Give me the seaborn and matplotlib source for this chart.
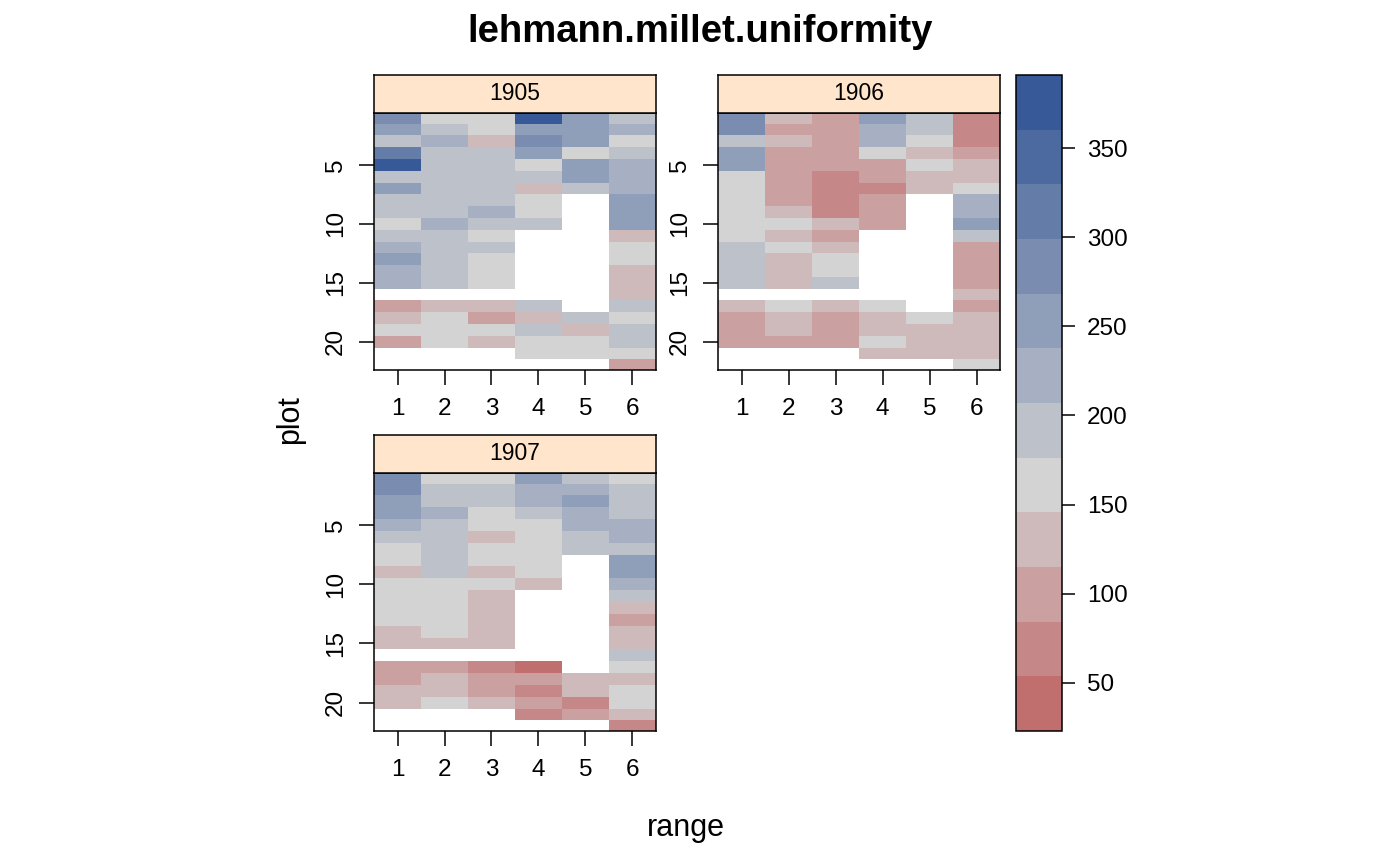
import numpy as np
import pandas as pd
import matplotlib
matplotlib.use("Agg")
import matplotlib.pyplot as plt
from matplotlib.colors import ListedColormap, BoundaryNorm
import seaborn as sns

# -------------------------
# Data (yield per plot; nan = missing plot)
# -------------------------
N = np.nan
years = ["1905", "1906", "1907"]
ranges = [1, 2, 3, 4, 5, 6]
plots = list(range(1, 23))

yield_1905 = [
    [284, 161, 161, 391, 253, 192],
    [253, 192, 161, 253, 253, 222],
    [192, 222, 130, 284, 253, 161],
    [314, 192, 192, 253, 161, 192],
    [376, 192, 192, 161, 253, 222],
    [192, 192, 192, 192, 253, 222],
    [253, 192, 192, 130, 192, 222],
    [192, 192, 192, 161, N, 253],
    [192, 192, 222, 161, N, 253],
    [161, 222, 192, 192, N, 253],
    [192, 192, 161, N, N, 130],
    [222, 192, 192, N, N, 161],
    [253, 192, 161, N, N, 161],
    [222, 192, 161, N, N, 130],
    [222, 192, 161, N, N, 130],
    [N, N, N, N, N, 130],
    [100, 130, 130, 192, N, 192],
    [130, 161, 100, 130, 192, 161],
    [161, 161, 161, 192, 130, 192],
    [100, 161, 130, 161, 161, 192],
    [N, N, N, 161, 161, 161],
    [N, N, N, N, N, 100],
]

yield_1906 = [
    [284, 130, 100, 253, 192, 69],
    [284, 100, 100, 222, 192, 69],
    [192, 130, 100, 222, 161, 69],
    [253, 100, 100, 161, 130, 100],
    [253, 100, 100, 100, 161, 130],
    [161, 100, 69, 100, 130, 130],
    [161, 100, 69, 69, 130, 161],
    [161, 100, 69, 100, N, 222],
    [161, 130, 69, 100, N, 222],
    [161, 161, 130, 100, N, 253],
    [161, 130, 100, N, N, 192],
    [192, 161, 130, N, N, 100],
    [192, 130, 161, N, N, 100],
    [192, 130, 161, N, N, 100],
    [192, 130, 192, N, N, 100],
    [N, N, N, N, N, 130],
    [130, 161, 130, 161, N, 100],
    [100, 130, 100, 130, 161, 130],
    [100, 130, 100, 130, 130, 130],
    [100, 100, 100, 161, 130, 130],
    [N, N, N, 130, 130, 130],
    [N, N, N, N, N, 161],
]

yield_1907 = [
    [284, 161, 161, 253, 192, 161],
    [284, 192, 192, 222, 222, 192],
    [253, 192, 192, 222, 253, 192],
    [253, 222, 161, 192, 222, 192],
    [222, 192, 161, 161, 222, 222],
    [192, 192, 130, 161, 192, 222],
    [161, 192, 161, 161, 192, 192],
    [161, 192, 161, 161, N, 253],
    [130, 192, 130, 161, N, 253],
    [161, 161, 161, 130, N, 222],
    [161, 161, 130, N, N, 192],
    [161, 161, 130, N, N, 130],
    [161, 161, 130, N, N, 100],
    [130, 161, 130, N, N, 130],
    [130, 130, 130, N, N, 130],
    [N, N, N, N, N, 192],
    [100, 100, 69, 23, N, 161],
    [100, 130, 100, 100, 130, 130],
    [130, 130, 100, 69, 130, 161],
    [130, 161, 130, 100, 69, 161],
    [N, N, N, 69, 100, 130],
    [N, N, N, N, N, 69],
]

key_ticks = [50, 100, 150, 200, 250, 300, 350]

# firebrick -> lightgray -> blue, 12 levels
level_colors = ["#C06E6E", "#C58787", "#CAA0A0", "#CEBABA", "#D3D3D3", "#BDC2CA",
                "#A6B0C2", "#909FB9", "#7A8DB1", "#647CA8", "#4D6AA0", "#375997"]

# -------------------------
# Setup
# -------------------------
sns.set_theme(style="white")
plt.rcParams["font.family"] = ["Liberation Sans", "DejaVu Sans"]
plt.rcParams["text.color"] = "black"
plt.rcParams["axes.labelcolor"] = "black"
plt.rcParams["xtick.color"] = "black"
plt.rcParams["ytick.color"] = "black"

W, H = 1400, 866
fig = plt.figure(figsize=(W / 100, H / 100), dpi=100)


def px_box(x0, y0, x1, y1):
    # pixel box (top-left origin) -> figure fraction rect
    return [x0 / W, 1 - y1 / H, (x1 - x0) / W, (y1 - y0) / H]


all_vals = np.concatenate([np.ravel(yield_1905), np.ravel(yield_1906), np.ravel(yield_1907)])
edges = np.linspace(np.nanmin(all_vals), np.nanmax(all_vals), len(level_colors) + 1)
cmap = ListedColormap(level_colors)
norm = BoundaryNorm(edges, cmap.N)

panel_boxes = {
    "1905": (374, 113, 656, 370),
    "1906": (718, 113, 1000, 370),
    "1907": (374, 473, 656, 731),
}
strip_h = 38
lw = 1.1

# -------------------------
# Panels
# -------------------------
for year, data in zip(years, [yield_1905, yield_1906, yield_1907]):
    x0, y0, x1, y1 = panel_boxes[year]
    ax = fig.add_axes(px_box(x0, y0, x1, y1))
    df = pd.DataFrame(data, index=plots, columns=ranges)
    sns.heatmap(df, ax=ax, cmap=cmap, norm=norm, cbar=False)

    ax.set_xlim(0, 6)
    ax.set_ylim(21.9, 0.1)
    ax.set_xticks(np.arange(len(ranges)) + 0.5, [str(r) for r in ranges])
    ax.set_yticks([4.5, 9.5, 14.5, 19.5], ["5", "10", "15", "20"])
    for lab in ax.get_yticklabels():
        lab.set_rotation(90)
        lab.set_va("center")
    for lab in ax.get_xticklabels():
        lab.set_rotation(0)
    ax.set_xlabel("")
    ax.set_ylabel("")
    ax.tick_params(axis="both", direction="out", length=10.5, width=lw,
                   color="black", labelsize=17.5, labelcolor="black",
                   bottom=True, left=True, top=False, right=False)
    ax.tick_params(axis="x", pad=10)
    ax.tick_params(axis="y", pad=9)
    for s in ax.spines.values():
        s.set_visible(True)
        s.set_color("black")
        s.set_linewidth(lw)

    # strip on top of the panel
    sax = fig.add_axes(px_box(x0, y0 - strip_h, x1, y0))
    sax.set_facecolor("#FFE5CC")
    sax.set_xticks([])
    sax.set_yticks([])
    for s in sax.spines.values():
        s.set_visible(True)
        s.set_color("black")
        s.set_linewidth(lw)
    sax.text(0.5, 0.5, year, ha="center", va="center", fontsize=16.5,
             color="black", transform=sax.transAxes)

# -------------------------
# Colour key
# -------------------------
cax = fig.add_axes(px_box(1016, 75, 1062, 731))
sm = plt.cm.ScalarMappable(norm=norm, cmap=cmap)
cb = fig.colorbar(sm, cax=cax, ticks=key_ticks, spacing="proportional")
cb.minorticks_off()
cb.outline.set_linewidth(lw)
cb.outline.set_edgecolor("black")
cax.tick_params(which="both", length=9.5, width=lw, color="black", labelsize=17.5,
                pad=8.5, labelcolor="black")
cax.tick_params(which="minor", length=0)

# -------------------------
# Titles
# -------------------------
fig.text(0.5, 1 - 42 / H, "lehmann.millet.uniformity", ha="center", va="baseline",
         fontsize=27.5, fontweight="bold", color="black")
fig.text(290 / W, 1 - 420 / H, "plot", rotation=90, ha="center", va="center",
         fontsize=22, color="black")
fig.text(686 / W, 1 - 828 / H, "range", ha="center", va="center",
         fontsize=22, color="black")

fig.savefig("out.png", dpi=100)
plt.close(fig)
